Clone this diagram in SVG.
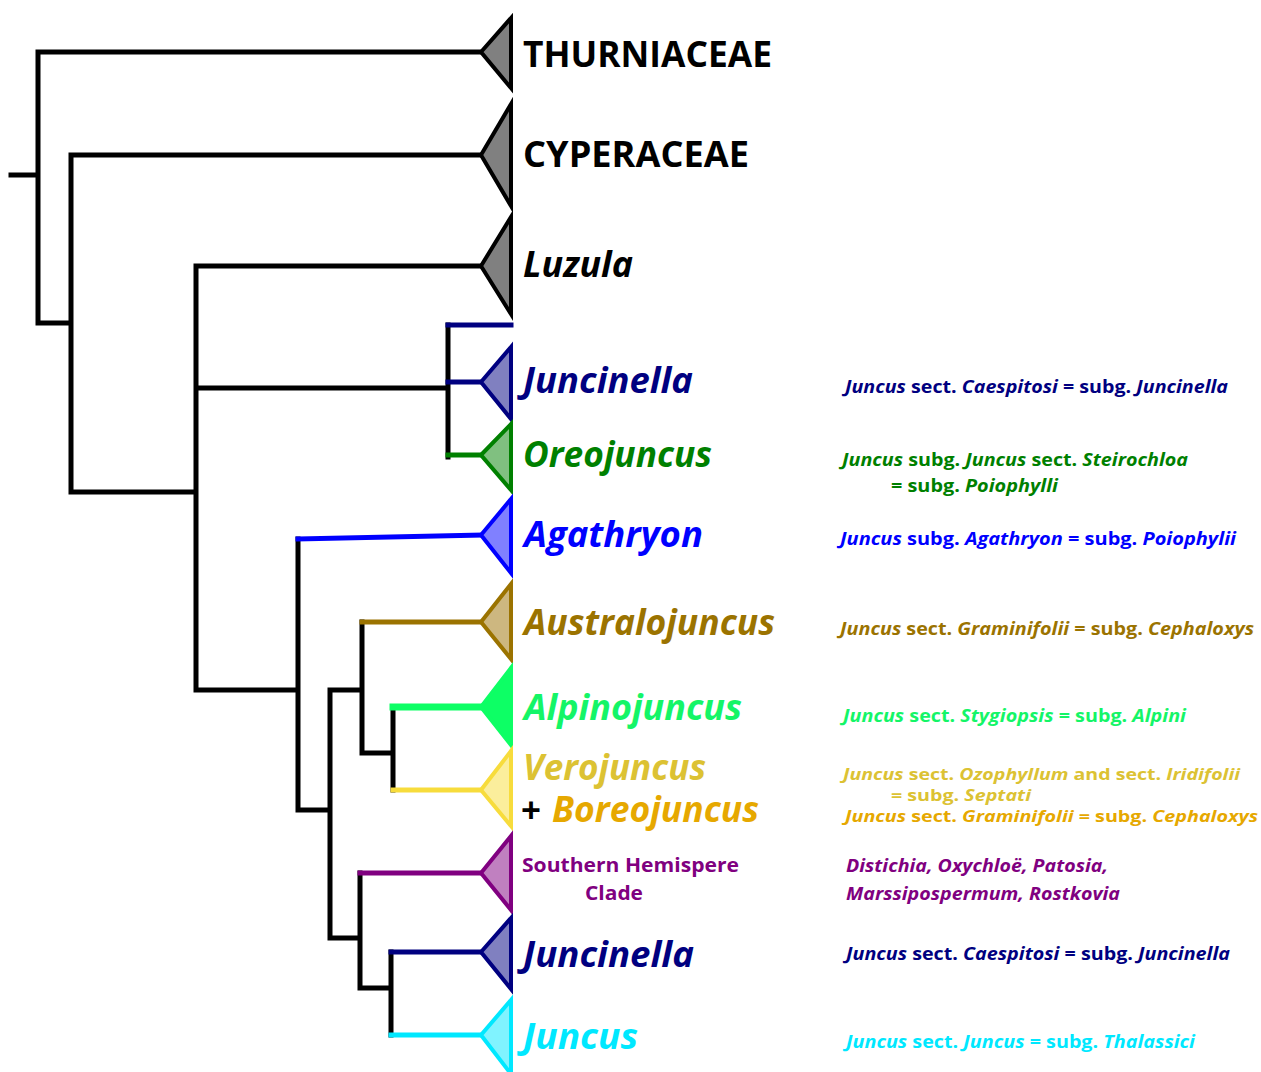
<svg xmlns="http://www.w3.org/2000/svg" width="1261" height="1072" viewBox="0 0 1261 1072">
<style>
text{font-family:"Open Sans","Noto Sans","Liberation Sans",sans-serif;font-weight:bold}
.big{font-size:35px}
.it{font-style:italic}
.ann{font-size:18px}
.sm{font-size:16px}
.i{font-style:italic}
.tri{stroke-width:4;stroke-linejoin:miter}
.br{fill:none;stroke-width:5;stroke-linecap:square}
.k{stroke:#000}
</style>
<rect width="1261" height="1072" fill="#fff"/>
<g id="connectors" class="br">
<path class="k" d="M11 175H38M38 52V323M38 52H481M38 323H71M71 155V492M71 155H481M71 492H196M196 266V690M196 266H481M196 388H448M448 325V457M196 690H298M298 539V810M298 810H330M330 690V938M330 690H362M362 622V753M362 753H393M393 707V790M330 938H360M360 873V988M360 988H391M391 952V1035"/>
<path d="M448 325H511M448 382H481" stroke="#000080"/>
<path d="M448 455H481" stroke="#008000"/>
<path d="M298 539L481 535" stroke="#0000ff"/>
<path d="M362 622H481" stroke="#9b7300"/>
<path d="M393 707H481" stroke="#0dff65" stroke-width="7"/>
<path d="M393 790H481" stroke="#f7dc3c"/>
<path d="M360 873H481" stroke="#800080"/>
<path d="M391 952H481" stroke="#000080"/>
<path d="M391 1035H481" stroke="#00e8ff"/>
</g>
<g id="thurniaceae">
<polygon class="tri" points="481,52 511,18 511,88" fill="#808080" stroke="#000"/>
<text class="big" x="523" y="67" textLength="249" lengthAdjust="spacingAndGlyphs" fill="#000">THURNIACEAE</text>
</g>
<g id="cyperaceae">
<polygon class="tri" points="481,155 511,104 511,206" fill="#808080" stroke="#000"/>
<text class="big" x="523" y="167" textLength="226" lengthAdjust="spacingAndGlyphs" fill="#000">CYPERACEAE</text>
</g>
<g id="luzula">
<polygon class="tri" points="481,266 511,217 511,314" fill="#808080" stroke="#000"/>
<text class="big it" x="523" y="277" textLength="110" lengthAdjust="spacingAndGlyphs" fill="#000">Luzula</text>
</g>
<g id="juncinella1">
<polygon class="tri" points="481,382 511,347 511,419" fill="#8080c0" stroke="#000080"/>
<text class="big it" x="523" y="393" textLength="170" lengthAdjust="spacingAndGlyphs" fill="#000080">Juncinella</text>
<text class="ann" x="845" y="393" textLength="383" lengthAdjust="spacingAndGlyphs" fill="#000080"><tspan class="i">Juncus</tspan> sect. <tspan class="i">Caespitosi</tspan> = subg. <tspan class="i">Juncinella</tspan></text>
</g>
<g id="oreojuncus">
<polygon class="tri" points="481,455 511,424 511,490" fill="#80c080" stroke="#008000"/>
<text class="big it" x="523" y="467" textLength="189" lengthAdjust="spacingAndGlyphs" fill="#008000">Oreojuncus</text>
<text class="ann" x="842" y="466" textLength="346" lengthAdjust="spacingAndGlyphs" fill="#008000"><tspan class="i">Juncus</tspan> subg. <tspan class="i">Juncus</tspan> sect. <tspan class="i">Steirochloa</tspan></text>
<text class="ann" x="891" y="492" textLength="167" lengthAdjust="spacingAndGlyphs" fill="#008000">= subg. <tspan class="i">Poiophylli</tspan></text>
</g>
<g id="agathryon">
<polygon class="tri" points="481,535 511,499 511,573" fill="#8080ff" stroke="#0000ff"/>
<text class="big it" x="524" y="547" textLength="179" lengthAdjust="spacingAndGlyphs" fill="#0000ff">Agathryon</text>
<text class="ann" x="840" y="545" textLength="396" lengthAdjust="spacingAndGlyphs" fill="#0000ff"><tspan class="i">Juncus</tspan> subg. <tspan class="i">Agathryon</tspan> = subg. <tspan class="i">Poiophylii</tspan></text>
</g>
<g id="australojuncus">
<polygon class="tri" points="481,622 511,584 511,659" fill="#cdb780" stroke="#9b7300"/>
<text class="big it" x="524" y="635" textLength="251" lengthAdjust="spacingAndGlyphs" fill="#9b7300">Australojuncus</text>
<text class="ann" x="840" y="635" textLength="414" lengthAdjust="spacingAndGlyphs" fill="#9b7300"><tspan class="i">Juncus</tspan> sect. <tspan class="i">Graminifolii</tspan> = subg. <tspan class="i">Cephaloxys</tspan></text>
</g>
<g id="alpinojuncus">
<polygon class="tri" points="481,707 511,668 511,745" fill="#0dff65" stroke="#0dff65"/>
<text class="big it" x="524" y="720" textLength="218" lengthAdjust="spacingAndGlyphs" fill="#14f567">Alpinojuncus</text>
<text class="ann" x="843" y="722" textLength="343" lengthAdjust="spacingAndGlyphs" fill="#14f567"><tspan class="i">Juncus</tspan> sect. <tspan class="i">Stygiopsis</tspan> = subg. <tspan class="i">Alpini</tspan></text>
</g>
<g id="verojuncus">
<polygon class="tri" points="481,790 511,751 511,826" fill="#fbee9c" stroke="#f7dc3c"/>
<text class="big it" x="523" y="780" textLength="183" lengthAdjust="spacingAndGlyphs" fill="#dcc233">Verojuncus</text>
<text class="big" x="521" y="823" fill="#000">+</text>
<text class="big it" x="552" y="822" textLength="207" lengthAdjust="spacingAndGlyphs" fill="#e6a800">Boreojuncus</text>
<text class="ann sm" x="843" y="780" textLength="397" lengthAdjust="spacingAndGlyphs" fill="#dcc233"><tspan class="i">Juncus</tspan> sect. <tspan class="i">Ozophyllum</tspan> and sect. <tspan class="i">Iridifolii</tspan></text>
<text class="ann sm" x="891" y="801" textLength="140" lengthAdjust="spacingAndGlyphs" fill="#dcc233">= subg. <tspan class="i">Septati</tspan></text>
<text class="ann sm" x="845" y="822" textLength="413" lengthAdjust="spacingAndGlyphs" fill="#e6a800"><tspan class="i">Juncus</tspan> sect. <tspan class="i">Graminifolii</tspan> = subg. <tspan class="i">Cephaloxys</tspan></text>
</g>
<g id="southern-hemisphere-clade">
<polygon class="tri" points="481,873 511,836 511,910" fill="#c080c0" stroke="#800080"/>
<text x="522" y="872" font-size="20" textLength="217" lengthAdjust="spacingAndGlyphs" fill="#800080">Southern Hemispere</text>
<text x="585" y="900" font-size="20" textLength="58" lengthAdjust="spacingAndGlyphs" fill="#800080">Clade</text>
<text class="ann i" x="846" y="872" textLength="262" lengthAdjust="spacingAndGlyphs" fill="#800080">Distichia, Oxychloë, Patosia,</text>
<text class="ann i" x="846" y="900" textLength="274" lengthAdjust="spacingAndGlyphs" fill="#800080">Marssipospermum, Rostkovia</text>
</g>
<g id="juncinella2">
<polygon class="tri" points="481,952 511,918 511,989" fill="#8080c0" stroke="#000080"/>
<text class="big it" x="523" y="967" textLength="171" lengthAdjust="spacingAndGlyphs" fill="#000080">Juncinella</text>
<text class="ann" x="846" y="960" textLength="384" lengthAdjust="spacingAndGlyphs" fill="#000080"><tspan class="i">Juncus</tspan> sect. <tspan class="i">Caespitosi</tspan> = subg. <tspan class="i">Juncinella</tspan></text>
</g>
<g id="juncus">
<polygon class="tri" points="481,1035 511,1000 511,1074" fill="#80f3ff" stroke="#00e8ff"/>
<text class="big it" x="523" y="1049" textLength="115" lengthAdjust="spacingAndGlyphs" fill="#00e8ff">Juncus</text>
<text class="ann" x="846" y="1048" textLength="349" lengthAdjust="spacingAndGlyphs" fill="#00e8ff"><tspan class="i">Juncus</tspan> sect. <tspan class="i">Juncus</tspan> = subg. <tspan class="i">Thalassici</tspan></text>
</g>
</svg>
